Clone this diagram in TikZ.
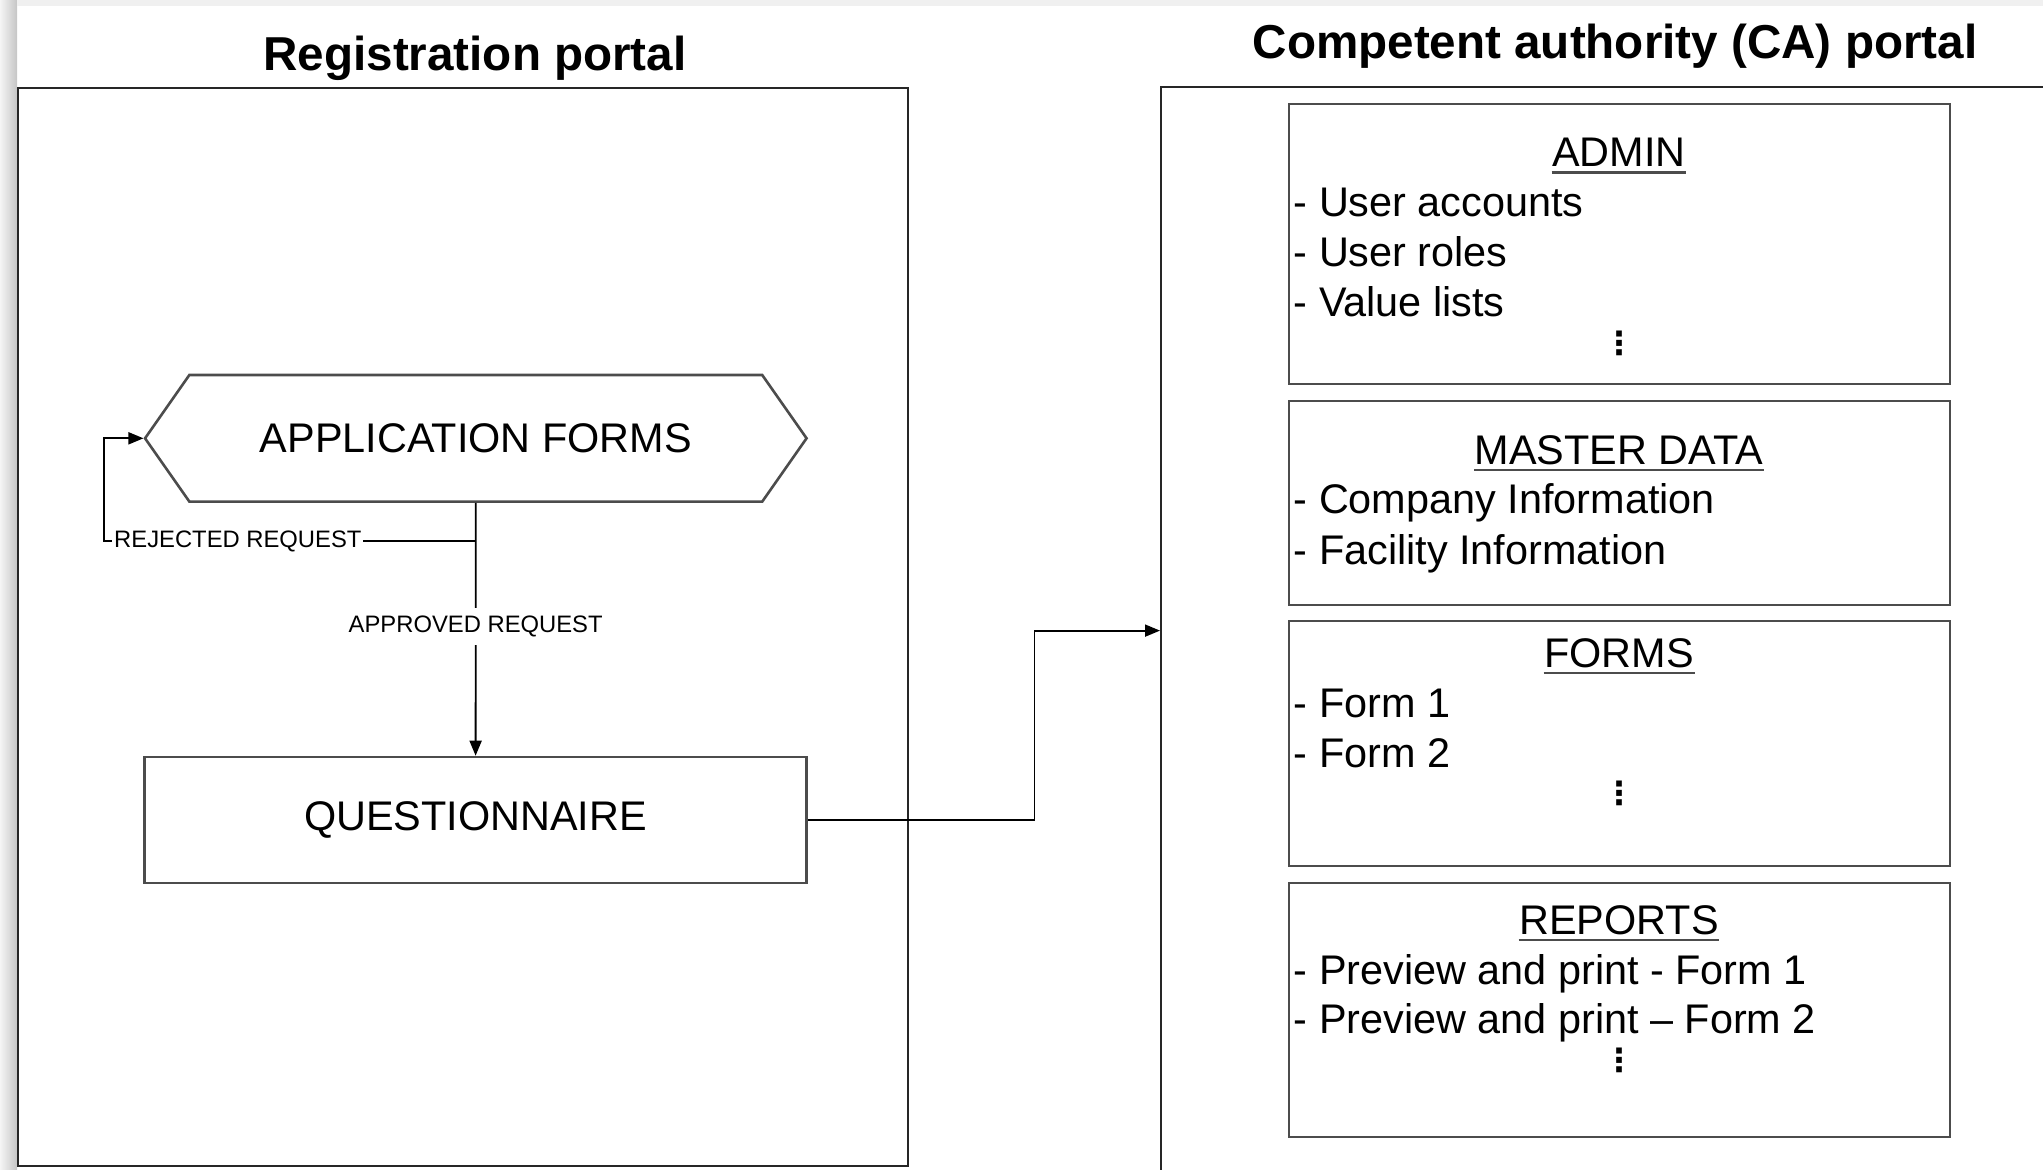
\documentclass[tikz,border=0pt]{standalone}
\usepackage{fontspec}
\setmainfont{Liberation Sans}
\newfontfamily\dotsfont{DejaVu Sans}
\usetikzlibrary{arrows.meta,shapes.symbols}

\tikzset{every picture/.style={line width=0.75pt}}
\tikzset{
  portal/.style={draw=black!85, line width=1pt, inner sep=0pt},
  unitbox/.style={draw=black!70, line width=1.3pt, inner sep=0pt, font=\fontsize{20.7}{24}\selectfont},
  flow/.style={draw=black, line width=0.9pt},
  tip/.style={-{Triangle[length=7.5pt,width=6pt]}},
  itemtext/.style={font=\fontsize{20.7}{24}\selectfont, inner sep=0pt},
  moredots/.style={font=\dotsfont\bfseries\fontsize{16}{16}\selectfont, inner sep=0pt},
  headtext/.style={font=\fontsize{20.7}{24}\selectfont, inner sep=0pt, anchor=base},
  titletext/.style={font=\bfseries\fontsize{23.8}{28}\selectfont, inner sep=0pt, anchor=base},
  flowlabel/.style={font=\fontsize{11.9}{14}\selectfont, fill=white, inner xsep=1pt, inner ysep=4pt},
  headline/.style={draw=black!70, line width=1.4pt}
}

\begin{document}
\begin{tikzpicture}[x=0.5pt,y=0.5pt,yscale=-1,xscale=1]
\useasboundingbox (0,0) rectangle (2043,1169);
\clip (0,0) rectangle (2043,1169);

%Shadow of the page edges
\shade[left color=gray!8, right color=gray!45] (0,0) rectangle (17,1169);
\fill[gray!12] (17,0) rectangle (2043,6);

%Portal frames
\node[portal, minimum width=445pt, minimum height=539pt] (regportal) at (463,627) {};
\node[portal, minimum width=491pt, minimum height=581.5pt] (caportal) at (1652,668.5) {};

% Titles
\node[titletext] (regtitle) at (475,70) {Registration portal};
\node[titletext] (catitle) at (1615,58) {Competent authority (CA) portal};

%Registration side
\node[unitbox, signal, signal to=west and east, signal pointer angle=110, minimum width=330.75pt, minimum height=63.3pt] (appforms) at (475.8,438.3) {APPLICATION FORMS};
\node[unitbox, minimum width=331pt, minimum height=63pt] (quest) at (475.6,820) {QUESTIONNAIRE};

\coordinate (rejcorner) at (104,541);
\coordinate (cabend) at (1034.5,630.6);

%Connectors
\draw[flow, tip] (appforms.south) -- node[flowlabel, pos=0.49] (approved) {APPROVED REQUEST} (quest.north);
\draw[flow, tip] (rejcorner -| appforms.south) -- node[flowlabel, inner ysep=1pt, pos=0.64] (rejected) {REJECTED REQUEST} (rejcorner) |- (appforms.west);
\draw[flow, tip] (quest.east) -| (cabend) -- (cabend -| caportal.west);

%CA side: ADMIN
\node[unitbox, minimum width=330.5pt, minimum height=140pt] (admin) at (1619.5,244) {};
\node[headtext] (admint) at (1619,166.7) {ADMIN};
\node[itemtext, anchor=base west] (admin1) at (1293,216.7) {- User accounts};
\node[itemtext, anchor=base west] (admin2) at (1293,266.7) {- User roles};
\node[itemtext, anchor=base west] (admin3) at (1293,316.7) {- Value lists};
\node[moredots] (admindots) at (1619,343) {⋮};

%CA side: MASTER DATA
\node[unitbox, minimum width=330.5pt, minimum height=102pt] (master) at (1619.5,503) {};
\node[headtext] (mastert) at (1619,464) {MASTER DATA};
\node[itemtext, anchor=base west] (master1) at (1293,513.5) {- Company Information};
\node[itemtext, anchor=base west] (master2) at (1293,564) {- Facility Information};

%CA side: FORMS
\node[unitbox, minimum width=330.5pt, minimum height=122.5pt] (forms) at (1619.5,743.5) {};
\node[headtext] (formst) at (1619,667) {FORMS};
\node[itemtext, anchor=base west] (forms1) at (1293,717.8) {- Form 1};
\node[itemtext, anchor=base west] (forms2) at (1293,767.4) {- Form 2};
\node[moredots] (formsdots) at (1619,793) {⋮};

%CA side: REPORTS
\node[unitbox, minimum width=330.5pt, minimum height=127pt] (reports) at (1619.5,1010) {};
\node[headtext] (reportst) at (1619,934) {REPORTS};
\node[itemtext, anchor=base west] (reports1) at (1293,984) {- Preview and print - Form 1};
\node[itemtext, anchor=base west] (reports2) at (1293,1033.7) {- Preview and print -- Form 2};
\node[moredots] (reportsdots) at (1619,1060) {⋮};

%Header underlines
\draw[headline] ([yshift=3pt]admint.base west) -- ([yshift=3pt]admint.base east);
\draw[headline] ([yshift=3pt]mastert.base west) -- ([yshift=3pt]mastert.base east);
\draw[headline] ([yshift=3pt]formst.base west) -- ([yshift=3pt]formst.base east);
\draw[headline] ([yshift=3pt]reportst.base west) -- ([yshift=3pt]reportst.base east);
\end{tikzpicture}
\end{document}
